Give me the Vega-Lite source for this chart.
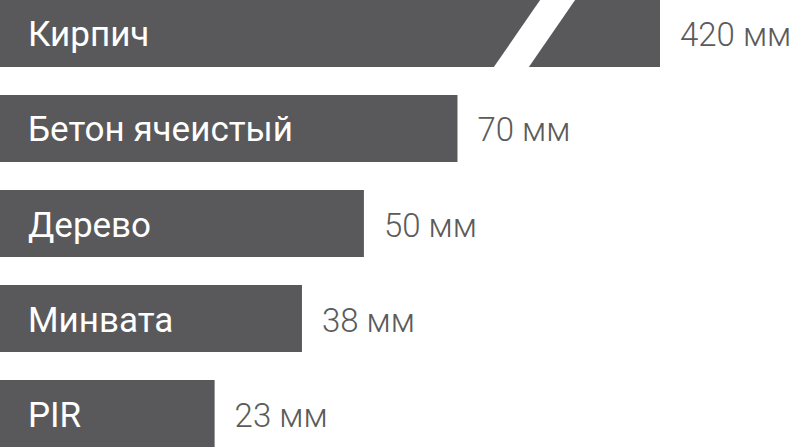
{
  "$schema": "https://vega.github.io/schema/vega-lite/v6.json",
  "width": 803,
  "height": 447,
  "padding": 0,
  "autosize": "none",
  "background": "white",
  "data": {
    "values": [
      {"material": "Кирпич", "mm": 420},
      {"material": "Бетон ячеистый", "mm": 70},
      {"material": "Дерево", "mm": 50},
      {"material": "Минвата", "mm": 38},
      {"material": "PIR", "mm": 23}
    ]
  },
  "transform": [{"calculate": "datum.mm + ' мм'", "as": "label"}],
  "encoding": {
    "y": {
      "field": "material",
      "type": "nominal",
      "sort": null,
      "axis": null,
      "scale": {"paddingInner": 0.295, "paddingOuter": 0}
    }
  },
  "layer": [
    {
      "mark": {"type": "bar", "color": "#59595b"},
      "encoding": {
        "x": {
          "field": "mm",
          "type": "quantitative",
          "axis": null,
          "scale": {"type": "pow", "exponent": 0.68, "domain": [0, 118], "range": [0, 660], "clamp": true}
        }
      }
    },
    {
      "transform": [{"filter": "datum.material == 'Кирпич'"}],
      "mark": {
        "type": "point",
        "shape": "M0.229,-1.1L1.289,-1.1L-0.229,1.1L-1.289,1.1Z",
        "size": 4356,
        "filled": true,
        "color": "white",
        "opacity": 1,
        "strokeWidth": 0
      },
      "encoding": {"x": {"datum": 88}}
    },
    {
      "mark": {"type": "text", "color": "white", "align": "left", "baseline": "alphabetic", "dx": 28, "dy": 13, "fontSize": 35, "font": "Roboto", "fontWeight": 400},
      "encoding": {"x": {"datum": 0}, "text": {"field": "material"}}
    },
    {
      "mark": {"type": "text", "color": "#5b5b5b", "align": "left", "baseline": "alphabetic", "dx": 20, "dy": 13, "fontSize": 33, "font": "Roboto", "fontWeight": 300},
      "encoding": {"x": {"field": "mm", "type": "quantitative"}, "text": {"field": "label"}}
    }
  ],
  "config": {"view": {"stroke": null}}
}
